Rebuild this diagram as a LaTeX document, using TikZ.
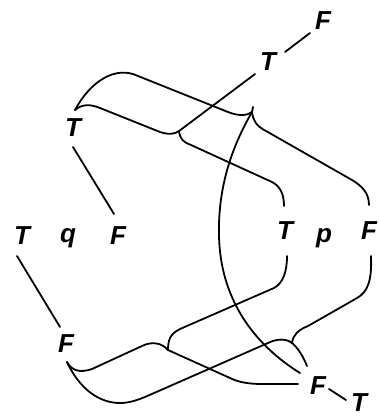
\documentclass[tikz,border=0pt]{standalone}
\usepackage{fontspec}
\setmainfont{Liberation Sans}
\begin{document}
\begin{tikzpicture}[x=1pt,y=-1pt,
  lbl/.style={font=\fontsize{26}{26}\selectfont\bfseries\itshape, inner sep=0pt},
  ln/.style={line width=1.8pt, line cap=round, line join=round}]
\useasboundingbox (0,0) rectangle (378,418);
\fill[white] (0,0) rectangle (378,418);
% labels
\node[lbl] (Ftop) at (323,21) {F};
\node[lbl] (Tur) at (268,62) {T};
\node[lbl] (Tul) at (73,128) {T};
\node[lbl] (Tl) at (22,236) {T};
\node[lbl] (q) at (68,238) {q};
\node[lbl] (Fm) at (118,236) {F};
\node[lbl] (Tm) at (285,231) {T};
\node[lbl] (p) at (324,238) {p};
\node[lbl] (Fr) at (369,231) {F};
\node[lbl] (Fll) at (66,344) {F};
\node[lbl] (Flr) at (318,386) {F};
\node[lbl] (Tb) at (359,403) {T};
% coordinates
\coordinate (a1) at (285,52);  \coordinate (a2) at (310,33);
\coordinate (b1) at (73,147);  \coordinate (b2) at (114,214);
\coordinate (c1) at (17,256);  \coordinate (c2) at (60,327);
\coordinate (d1) at (329,389); \coordinate (d2) at (346,400);
\coordinate (P) at (75,110);
\coordinate (J1) at (179,131);
\coordinate (J2) at (252,112);
\coordinate (L) at (67,362);
\coordinate (J3) at (168,350);
\coordinate (J4) at (292,343);
% simple lines
\draw[ln] (a1) -- (a2);
\draw[ln] (b1) -- (b2);
\draw[ln] (c1) -- (c2);
\draw[ln] (d1) -- (d2);
% brace 1
\draw[ln] (P) .. controls (82,104) and (90,104) .. (100,108) -- (160,132)
  .. controls (169,135) and (175,134) .. (J1) -- (255,74);
\draw[ln] (J1) .. controls (180,139) and (183,142) .. (191,145) -- (272,182)
  .. controls (280,186) and (284,194) .. (284,206);
% brace 2
\draw[ln] (P) .. controls (90,82) and (115,65) .. (138,76) -- (228,112)
  .. controls (238,116) and (247,116) .. (J2) -- (253,107);
\draw[ln] (J2) .. controls (253,120) and (256,126) .. (266,131) -- (352,180)
  .. controls (362,186) and (369,193) .. (369,205);
\draw[ln] (J2) .. controls (230,150) and (218,190) .. (219,235)
  .. controls (220,300) and (255,345) .. (300,373);
% brace 3
\draw[ln] (L) .. controls (72,371) and (80,373) .. (92,369) -- (142,346)
  .. controls (152,341) and (162,343) .. (J3);
\draw[ln] (J3) .. controls (168,340) and (170,334) .. (180,329) -- (274,288)
  .. controls (283,283) and (287,272) .. (287,256);
\draw[ln] (J3) -- (230,378) .. controls (238,382) and (248,384) .. (262,384) -- (298,384);
% brace 4
\draw[ln] (L) .. controls (80,390) and (100,403) .. (120,403)
  .. controls (128,403) and (135,401) .. (145,397) -- (268,343)
  .. controls (276,339) and (286,338) .. (J4);
\draw[ln] (J4) .. controls (293,335) and (298,330) .. (308,326) -- (357,298)
  .. controls (368,292) and (372,280) .. (371,256);
\draw[ln] (J4) .. controls (298,348) and (303,356) .. (307,366);
\end{tikzpicture}
\end{document}
